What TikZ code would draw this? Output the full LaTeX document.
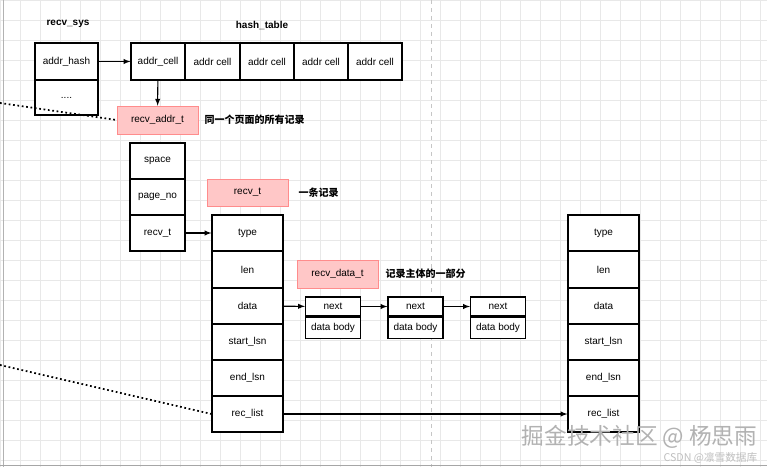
\documentclass[tikz,border=0pt]{standalone}
\usepackage{fontspec}
\setmainfont{Liberation Sans}
\newfontfamily\cjk{Noto Sans CJK SC}
\begin{document}
\begin{tikzpicture}[x=0.75pt,y=-0.75pt,
  cell/.style={draw,thick,fill=white,minimum width=#1*0.75pt,inner sep=0pt,font=\fontsize{7.5}{9}\selectfont},
  pink/.style={draw=red!45,fill=red!22,inner sep=0pt,font=\fontsize{7.5}{9}\selectfont},
  note/.style={anchor=west,font=\cjk\bfseries\fontsize{7.5}{9}\selectfont},
  arr/.style={-latex,thick},
  dots/.style={dotted,line width=1.3pt}]
\useasboundingbox (0,0) rectangle (767,467);
\fill[white] (0,0) rectangle (767,467);
\draw[gray!18,line width=0.4pt] (0,0) grid[step=15pt] (767,467);
\draw[gray!45,dashed] (431,0) -- (431,467);
\draw[gray!60] (3,0) -- (3,467);
% recv_sys
\node[font=\bfseries\fontsize{7.5}{9}\selectfont] (rs) at (68,24) {recv\_sys};
\node[cell=63,minimum height=27.75pt] (ah) at (66.5,61.5) {addr\_hash};
\node[cell=63,minimum height=26.25pt] (dd) at (66.5,97.5) {....};
% hash table
\node[font=\bfseries\fontsize{7.5}{9}\selectfont] (ht) at (262,25) {hash\_table};
\node[cell=54,minimum height=27.75pt] (c1) at (158,61.5) {addr\_cell};
\node[cell=55,minimum height=27.75pt] (c2) at (212.5,61.5) {addr cell};
\node[cell=54,minimum height=27.75pt] (c3) at (267,61.5) {addr cell};
\node[cell=54,minimum height=27.75pt] (c4) at (321,61.5) {addr cell};
\node[cell=54,minimum height=27.75pt] (c5) at (375,61.5) {addr cell};
\draw[arr] (ah) -- (c1);
% recv_addr_t
\node[pink,minimum width=60.75pt,minimum height=21pt] (ra) at (157.5,120) {recv\_addr\_t};
\node[note] (n1) at (200,120) {同一个页面的所有记录};
\draw[arr] (c1) -- (ra);
\coordinate (d1) at (0,103);
\draw[dots] (d1) -- (ra.west);
% addr stack
\foreach \t/\n/\y in {space/sp/161,page\_no/pn/197,recv\_t/rt/233}
  \node[cell=55,minimum height=27pt] (\n) at (157.5,\y) {\t};
\node[pink,minimum width=60.75pt,minimum height=20.25pt] (rt2) at (247.5,192.5) {recv\_t};
\node[note] (n2) at (294,193) {一条记录};
% big stack
\foreach \t/\n/\y in {type/a1/233,len/a2/269.5,data/a3/306,start\_lsn/a4/342,end\_lsn/a5/378,rec\_list/a6/414}
  \node[cell=71,minimum height=27pt] (\n) at (247.5,\y) {\t};
\foreach \t/\n/\y in {type/b1/233,len/b2/269.5,data/b3/306,start\_lsn/b4/342,end\_lsn/b5/378,rec\_list/b6/414}
  \node[cell=71,minimum height=27pt] (\n) at (603.5,\y) {\t};
\draw[arr] (rt) -- (a1);
\node[pink,minimum width=60.75pt,minimum height=21pt] (rd) at (337.5,274) {recv\_data\_t};
\node[note] (n3) at (381,274) {记录主体的一部分};
% linked data
\foreach \i/\x in {1/333,2/415.5,3/498}{
  \node[cell=55,minimum height=14.25pt] (nx\i) at (\x,306.5) {next};
  \node[cell=55,minimum height=15.75pt,anchor=north] (db\i) at (nx\i.south) {data body};
}
\draw[arr] (a3) -- (nx1);
\draw[arr] (nx1) -- (nx2);
\draw[arr] (nx2) -- (nx3);
\draw[arr] (a6) -- (b6);
\coordinate (d2) at (0,365);
\draw[dots] (d2) -- (a6.west);
% watermark
\node[anchor=east,text=gray!60,font=\cjk\fontsize{17}{20}\selectfont] (w1) at (762,437) {掘金技术社区 @ 杨思雨};
\node[anchor=east,text=gray!50,font=\cjk\fontsize{8}{9}\selectfont] (w2) at (762,458) {CSDN @凛雪数据库};
\draw[gray!70] (0,465) -- (767,465);
\end{tikzpicture}
\end{document}
